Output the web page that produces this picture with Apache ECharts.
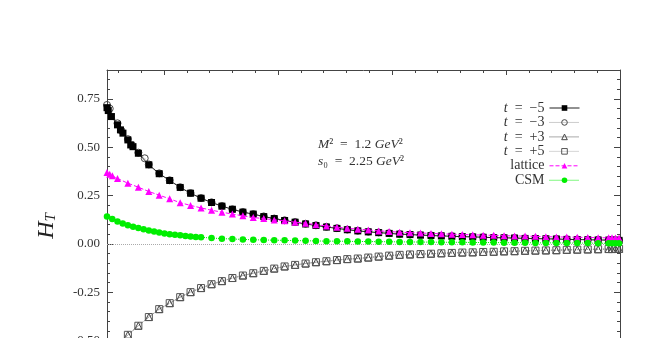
<!DOCTYPE html>
<html><head><meta charset="utf-8">
<script src="https://cdn.jsdelivr.net/npm/echarts@6/dist/echarts.min.js"></script>
<style>html,body{margin:0;padding:0;background:#fff}#c{width:663px;height:338px}</style>
</head><body><div id="c"></div>
<script>
// ---- data ----
const xGrid = [0.500,0.592,0.683,0.775,0.867,0.958,1.050,1.142,1.233,1.325,
  1.417,1.508,1.600,1.692,1.783,1.875,1.967,2.058,2.150,2.242,
  2.333,2.425,2.517,2.608,2.700,2.792,2.883,2.975,3.067,3.158,
  3.250,3.342,3.433,3.525,3.617,3.708,3.800,3.892,3.983,4.075,
  4.167,4.258,4.350,4.442,4.533,4.625,4.717,4.808,4.900,4.992];

const tm5Y = [0.705,0.616,0.538,0.469,0.409,0.363,0.328,0.292,0.262,0.236,
  0.214,0.195,0.179,0.164,0.154,0.141,0.131,0.121,0.112,0.103,
  0.095,0.087,0.080,0.073,0.067,0.062,0.058,0.054,0.050,0.048,
  0.045,0.043,0.041,0.039,0.037,0.036,0.034,0.032,0.031,0.030,
  0.028,0.027,0.026,0.025,0.023,0.022,0.021,0.020,0.019,0.018];
const tm5ExtraX = [0.511,0.539,0.618,0.640,0.708,0.728,4.930,4.960];
const tm5ExtraY = [0.690,0.659,0.590,0.573,0.512,0.503,0.019,0.018];

const tm3Y = [0.719,0.624,0.542,0.472,0.411,0.365,0.329,0.293,0.263,0.237,
  0.215,0.196,0.179,0.165,0.154,0.142,0.131,0.122,0.113,0.104,
  0.096,0.088,0.081,0.074,0.068,0.063,0.059,0.055,0.051,0.048,
  0.046,0.044,0.042,0.040,0.038,0.036,0.035,0.033,0.032,0.030,
  0.029,0.028,0.026,0.025,0.024,0.023,0.022,0.021,0.020,0.019];
const tm3ExtraX = [0.524,0.628,0.720,0.831,4.930,4.960];
const tm3ExtraY = [0.700,0.585,0.510,0.443,0.020,0.019];

const tp3Y = [-0.590,-0.525,-0.471,-0.424,-0.379,-0.338,-0.307,-0.276,-0.250,-0.229,
  -0.209,-0.193,-0.177,-0.164,-0.152,-0.140,-0.128,-0.117,-0.109,-0.102,
  -0.095,-0.090,-0.084,-0.079,-0.076,-0.071,-0.066,-0.061,-0.057,-0.055,
  -0.053,-0.051,-0.049,-0.047,-0.045,-0.044,-0.042,-0.041,-0.039,-0.038,
  -0.036,-0.035,-0.034,-0.033,-0.031,-0.030,-0.029,-0.028,-0.027,-0.026];
const tp3ExtraX = [4.930,4.960];
const tp3ExtraY = [-0.027,-0.026];

const tp5Y = [-0.590,-0.525,-0.471,-0.424,-0.379,-0.338,-0.307,-0.276,-0.250,-0.229,
  -0.209,-0.193,-0.177,-0.164,-0.152,-0.140,-0.128,-0.117,-0.109,-0.102,
  -0.095,-0.090,-0.084,-0.079,-0.076,-0.071,-0.066,-0.061,-0.057,-0.055,
  -0.053,-0.051,-0.049,-0.047,-0.045,-0.044,-0.042,-0.041,-0.039,-0.038,
  -0.036,-0.035,-0.034,-0.033,-0.031,-0.030,-0.029,-0.028,-0.027,-0.026];
const tp5ExtraX = [4.930,4.960];
const tp5ExtraY = [-0.027,-0.026];

const latY = [0.369,0.338,0.314,0.293,0.271,0.252,0.233,0.213,0.199,0.186,
  0.174,0.164,0.154,0.145,0.136,0.131,0.124,0.119,0.112,0.107,
  0.099,0.093,0.086,0.081,0.076,0.072,0.067,0.064,0.060,0.058,
  0.056,0.054,0.052,0.050,0.048,0.047,0.045,0.044,0.042,0.041,
  0.040,0.039,0.037,0.036,0.035,0.034,0.033,0.032,0.031,0.030];
const latExtraX = [0.524,0.547,4.930,4.960];
const latExtraY = [0.360,0.352,0.031,0.030];

const csmDenseX = [0.500,0.546,0.592,0.638,0.683,0.729,0.775,0.821,0.867,0.913,
  0.958,1.004,1.050,1.096,1.142,1.188,1.233,1.279,1.325];
const csmDenseY = [0.142,0.128,0.116,0.105,0.096,0.089,0.082,0.075,0.069,0.064,
  0.059,0.054,0.050,0.047,0.044,0.041,0.038,0.036,0.034];
const csmGridX = xGrid.slice(10);
const csmGridY = [0.030,0.027,0.025,0.023,0.021,0.020,0.019,0.018,0.017,0.016,
  0.015,0.014,0.014,0.013,0.012,0.012,0.011,0.011,0.010,0.010,
  0.009,0.009,0.008,0.008,0.008,0.007,0.007,0.007,0.006,0.006,
  0.006,0.005,0.005,0.005,0.004,0.004,0.004,0.003,0.003,0.003];
const csmExtraX = [4.930,4.960];
const csmExtraY = [0.003,0.003];

const seriesNames = ['t = −5','t = −3','t = +3','t = +5','lattice','CSM'];
const xMajorTicks = [1,2,3,4,5];
const xMinorTicks = [0.6,0.8,1.2,1.4,1.6,1.8,2.2,2.4,2.6,2.8,3.2,3.4,3.6,3.8,4.2,4.4,4.6,4.8];
const yLabelText = '{h|H}{s|T}';
const noteLine1 = '{i|M}²\u2002=\u20021.2 {i|GeV}²';
const noteLine2 = '{i|s}₀\u2002=\u20022.25 {i|GeV}²';

// ---- build ----
function pairs(xa, ya, xb, yb) {
  const out = [];
  for (let i = 0; i < xa.length; i++) out.push([xa[i], ya[i]]);
  if (xb) for (let i = 0; i < xb.length; i++) out.push([xb[i], yb[i]]);
  out.sort((a, b) => a[0] - b[0]);
  return out;
}
const SERIF = "'Liberation Serif','DejaVu Serif',serif";
const AX = '#444';

const chart = echarts.init(document.getElementById('c'), null, {renderer: 'canvas'});
const common = {type: 'line', animation: false, emphasis: {disabled: true}, xAxisIndex: 0, yAxisIndex: 0};

chart.setOption({
  animation: false,
  backgroundColor: '#fff',
  grid: [
    {left: 107, top: 70, width: 513, height: 367, outerBoundsMode: 'none', containLabel: false},
    {left: 107, top: 70, width: 513, height: 367, outerBoundsMode: 'none', containLabel: false}
  ],
  xAxis: [
    {gridIndex: 0, type: 'value', min: 0.5, max: 5, position: 'top',
     axisLine: {show: true, onZero: false, lineStyle: {color: AX, width: 1}},
     axisTick: {show: true, inside: true, length: 5, customValues: xMajorTicks, lineStyle: {color: AX}},
     axisLabel: {show: false}, splitLine: {show: false}},
    {gridIndex: 1, type: 'value', min: 0.5, max: 5, position: 'top',
     axisLine: {show: false, onZero: false},
     axisTick: {show: true, inside: true, length: 3, customValues: xMinorTicks, lineStyle: {color: AX}},
     axisLabel: {show: false}, splitLine: {show: false}}
  ],
  yAxis: [
    {gridIndex: 0, type: 'value', min: -1, max: 0.9, interval: 0.25, position: 'left',
     axisLine: {show: true, onZero: false, lineStyle: {color: AX, width: 1}},
     axisTick: {show: true, inside: true, length: 6, lineStyle: {color: AX}},
     minorTick: {show: true, splitNumber: 5, length: 3, lineStyle: {color: AX}},
     axisLabel: {show: true, showMaxLabel: false, margin: 7, fontFamily: SERIF, fontSize: 13, color: '#333',
       formatter: v => v.toFixed(2)},
     splitLine: {show: false}, minorSplitLine: {show: false}},
    {gridIndex: 0, type: 'value', min: -1, max: 0.9, interval: 0.25, position: 'right',
     axisLine: {show: true, onZero: false, lineStyle: {color: AX, width: 1}},
     axisTick: {show: true, inside: true, length: 6, lineStyle: {color: AX}},
     minorTick: {show: true, splitNumber: 5, length: 3, lineStyle: {color: AX}},
     axisLabel: {show: false}, splitLine: {show: false}},
    {gridIndex: 1, type: 'value', min: -1, max: 0.9, show: false}
  ],
  legend: {
    data: seriesNames,
    orient: 'vertical', align: 'right', right: 78, top: 96,
    itemWidth: 30, itemHeight: 7, itemGap: 0.45,
    itemStyle: {borderWidth: 1},
    lineStyle: {width: 1},
    formatter: name => name.startsWith('t ') ? '{i|t}' + name.slice(1).replace(' = ', '\u2002=\u2002') : name,
    textStyle: {fontFamily: SERIF, fontSize: 14, color: '#333', lineHeight: 14,
      rich: {i: {fontFamily: SERIF, fontSize: 14, fontStyle: 'italic', color: '#333', lineHeight: 14}}},
    selectedMode: false
  },
  graphic: [
    {type: 'text', x: 318, y: 144, silent: true,
     style: {text: noteLine1, fontFamily: SERIF, fontSize: 13.5, fill: '#333', verticalAlign: 'middle', align: 'left',
       rich: {i: {fontFamily: SERIF, fontSize: 13.5, fontStyle: 'italic', fill: '#333'}}}},
    {type: 'text', x: 318, y: 161, silent: true,
     style: {text: noteLine2, fontFamily: SERIF, fontSize: 13.5, fill: '#333', verticalAlign: 'middle', align: 'left',
       rich: {i: {fontFamily: SERIF, fontSize: 13.5, fontStyle: 'italic', fill: '#333'}}}},
    {type: 'text', x: 47, y: 226, rotation: Math.PI / 2, silent: true,
     style: {text: yLabelText, fill: '#222', align: 'center', verticalAlign: 'middle', fontFamily: SERIF, fontSize: 24,
       rich: {h: {fontFamily: SERIF, fontSize: 24, fontStyle: 'italic', lineHeight: 24, fill: '#222'},
              s: {fontFamily: SERIF, fontSize: 15, fontStyle: 'italic', lineHeight: 10, verticalAlign: 'bottom', fill: '#222'}}}}
  ],
  series: [
    Object.assign({}, common, {name: seriesNames[0], z: 3, data: pairs(xGrid, tm5Y, tm5ExtraX, tm5ExtraY),
      symbol: 'rect', symbolSize: 7, itemStyle: {color: '#000'},
      lineStyle: {color: '#222', width: 1, type: 'solid'}}),
    Object.assign({}, common, {name: seriesNames[1], z: 2, data: pairs(xGrid, tm3Y, tm3ExtraX, tm3ExtraY),
      symbol: 'circle', symbolSize: 7, itemStyle: {color: 'transparent', borderColor: '#444', borderWidth: 1},
      lineStyle: {color: '#999', width: 1, type: 'dotted'}}),
    Object.assign({}, common, {name: seriesNames[2], z: 2, data: pairs(xGrid, tp3Y, tp3ExtraX, tp3ExtraY),
      symbol: 'triangle', symbolSize: 7, itemStyle: {color: 'transparent', borderColor: '#444', borderWidth: 1},
      lineStyle: {color: '#555', width: 1, type: 'dotted'}}),
    Object.assign({}, common, {name: seriesNames[3], z: 2, data: pairs(xGrid, tp5Y, tp5ExtraX, tp5ExtraY),
      symbol: 'rect', symbolSize: 7, itemStyle: {color: 'transparent', borderColor: '#555', borderWidth: 1},
      lineStyle: {color: '#aaa', width: 1, type: 'dotted'},
      markLine: {silent: true, symbol: ['none', 'none'], label: {show: false}, animation: false,
        lineStyle: {color: '#aaa', width: 1, type: 'dotted'}, data: [{yAxis: 0}]}}),
    Object.assign({}, common, {name: seriesNames[4], z: 4, data: pairs(xGrid, latY, latExtraX, latExtraY),
      symbol: 'triangle', symbolSize: 7, itemStyle: {color: '#ff00ff'},
      lineStyle: {color: '#ff00ff', width: 1, type: 'dashed'}}),
    Object.assign({}, common, {name: seriesNames[5], z: 5,
      data: pairs(csmDenseX, csmDenseY, csmGridX.concat(csmExtraX), csmGridY.concat(csmExtraY)),
      symbol: 'circle', symbolSize: 6.5, itemStyle: {color: '#00ee00'},
      lineStyle: {color: '#00ee00', width: 1, type: 'dotted'}})
  ]
});
</script>
</body></html>
